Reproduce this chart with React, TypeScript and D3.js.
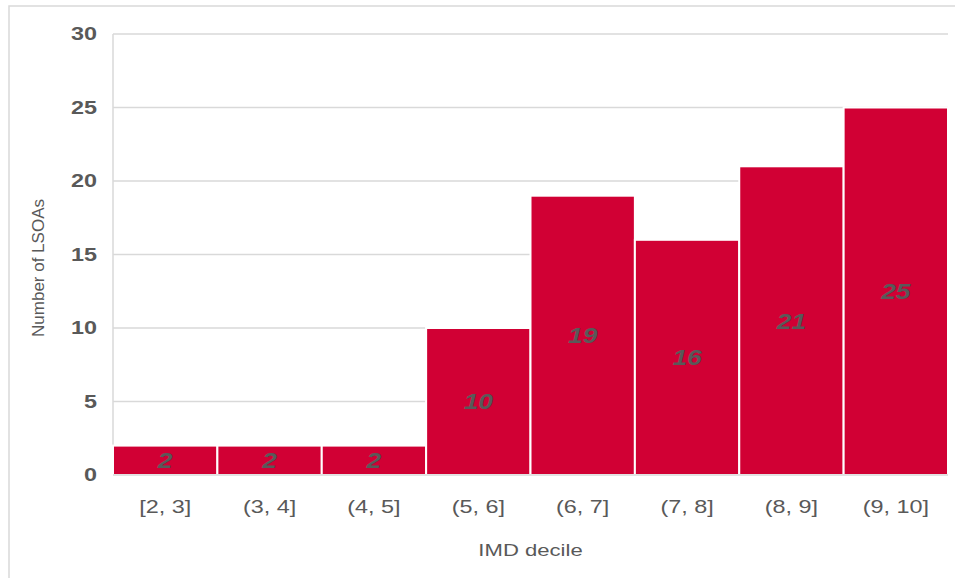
import React from "react";
import * as d3 from "d3";

const categories = ["[2, 3]", "(3, 4]", "(4, 5]", "(5, 6]", "(6, 7]", "(7, 8]", "(8, 9]", "(9, 10]"];
const counts = [2, 2, 2, 10, 19, 16, 21, 25];
const yTicks = [0, 5, 10, 15, 20, 25, 30];
const xTitle = "IMD decile";
const yTitle = "Number of LSOAs";

const W = 955, H = 578;
const M = { left: 113, right: 948, top: 34, bottom: 475 };
const SX = 1.3;

export default function App() {
  const x = d3.scaleBand<string>().domain(categories).range([M.left, M.right]).padding(0);
  const y = d3.scaleLinear().domain([0, 30]).range([M.bottom, M.top]);
  const text = "#595959";
  const sans = "Liberation Sans, Arial, sans-serif";
  return (
    <svg width={W} height={H} style={{ position: "absolute", left: 0, top: 0, background: "#fff" }}>
      <rect x={9} y={6} width={W + 10} height={H + 10} fill="#fff" stroke="#d9d9d9" strokeWidth={1.5} />
      {yTicks.map((t) => (
        <g key={t}>
          {t > 0 && <line x1={M.left} x2={M.right} y1={y(t)} y2={y(t)} stroke="#d9d9d9" strokeWidth={1.5} />}
          <text transform={`translate(97, ${y(t)}) scale(${SX}, 1)`} dy="0.36em" textAnchor="end" fontFamily={sans} fontWeight="bold" fontSize={18} fill={text}>{t}</text>
        </g>
      ))}
      <line x1={M.left} x2={M.left} y1={M.top} y2={M.bottom} stroke="#d9d9d9" strokeWidth={1.5} />
      {categories.map((c, i) => (
        <rect key={c} x={x(c)!} y={y(counts[i])} width={x.bandwidth()} height={M.bottom - y(counts[i])} fill="#D10034" stroke="#fff" strokeWidth={2} />
      ))}
      <line x1={M.left} x2={M.right} y1={M.bottom} y2={M.bottom} stroke="#d9d9d9" strokeWidth={1.5} />
      {categories.map((c, i) => (
        <text key={"v" + c} transform={`translate(${x(c)! + x.bandwidth() / 2}, ${(y(counts[i]) + M.bottom) / 2}) scale(1.2, 1)`} dy="0.36em" textAnchor="middle" fontFamily={sans} fontStyle="italic" fontWeight="bold" fontSize={22} fill={text}>{counts[i]}</text>
      ))}
      {categories.map((c) => (
        <text key={"l" + c} transform={`translate(${x(c)! + x.bandwidth() / 2}, 507) scale(${SX}, 1)`} dy="0.36em" textAnchor="middle" fontFamily={sans} fontSize={18} fill={text}>{c}</text>
      ))}
      <text transform={`translate(${(M.left + M.right) / 2}, 550) scale(${SX}, 1)`} dy="0.36em" textAnchor="middle" fontFamily={sans} fontSize={17} fill={text}>{xTitle}</text>
      <text transform={`translate(38, 268) rotate(-90)`} dy="0.36em" textAnchor="middle" fontFamily={sans} fontSize={17} fill={text}>{yTitle}</text>
    </svg>
  );
}
